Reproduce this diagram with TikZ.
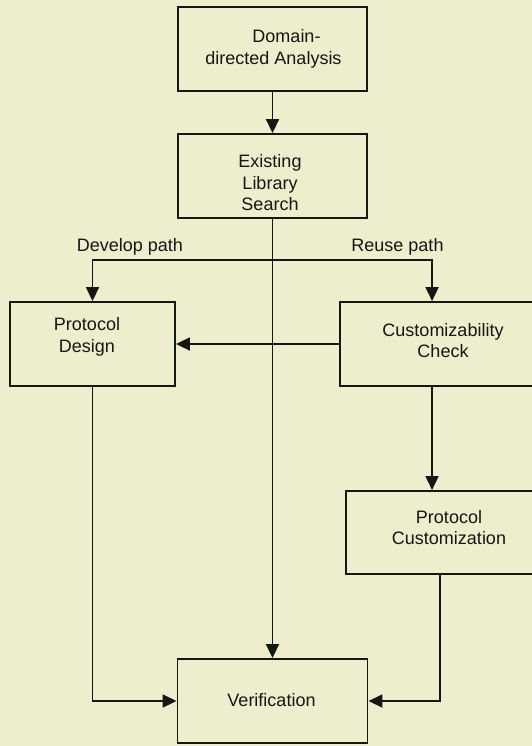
\documentclass[tikz,border=0pt]{standalone}
\usepackage{fontspec}
\setmainfont{Liberation Sans}
\usetikzlibrary{arrows.meta}

\definecolor{paper}{RGB}{238,237,205}
\definecolor{ink}{RGB}{22,22,18}

\tikzset{
  stepbox/.style={draw=ink, line width=1.9pt, fill=paper, rectangle,
    minimum height=84pt, inner sep=0pt},
  txt/.style={text=ink, align=center, inner sep=0pt,
    font=\fontsize{18}{21.5}\selectfont},
  flow/.style={draw=ink, line width=1.8pt,
    -{Triangle[width=13pt,length=14pt]}},
}

\begin{document}
\begin{tikzpicture}[x=1pt, y=-1pt]
  \clip (0,0) rectangle (532,746);
  \fill[paper] (0,0) rectangle (532,746);

  % process boxes
  \node[stepbox, minimum width=189pt] (dom)    at (272.5,49)  {};
  \node[stepbox, minimum width=189pt] (exist)  at (272.5,176) {};
  \node[stepbox, minimum width=165pt] (design) at (92.5,344)  {};
  \node[stepbox, minimum width=206pt] (check)  at (443,344)   {};
  \node[stepbox, minimum width=208pt, minimum height=83pt] (cust) at (450,532.5) {};
  \node[stepbox, minimum width=190pt] (verif)  at (272.5,701) {};

  % box captions
  \node[txt] (domT)    at (273.5,49)  {\hspace*{26pt}Domain-\\directed Analysis};
  \node[txt] (existT)  at (270,183)   {Existing\\Library\\Search};
  \node[txt] (designT) at (87,337)    {Protocol\\Design};
  \node[txt] (checkT)  at (443,340.5) {Customizability\\Check};
  \node[txt] (custT)   at (449,527.7) {Protocol\\Customization};
  \node[txt] (verifT)  at (271.5,700.2) {Verification};

  % path labels
  \node[txt, anchor=base] (devL) at (130,251)   {Develop path};
  \node[txt, anchor=base] (reuL) at (397.5,251) {Reuse path};

  % connectors
  \coordinate (split) at (272.5,260);
  \draw[flow] (dom.south) -- (exist.north);
  \draw[flow] (exist.south) -- (verif.north);
  \draw[flow] (split) -| (design.north);
  \draw[flow] (split) -| ([xshift=93pt]check.north west);
  \draw[flow] (check.west) -- (design.east);
  \draw[flow] ([xshift=93pt]check.south west) -- ([xshift=87pt]cust.north west);
  \draw[flow] ([xshift=95pt]cust.south west) |- (verif.east);
  \draw[flow] (design.south) |- (verif.west);
\end{tikzpicture}
\end{document}
